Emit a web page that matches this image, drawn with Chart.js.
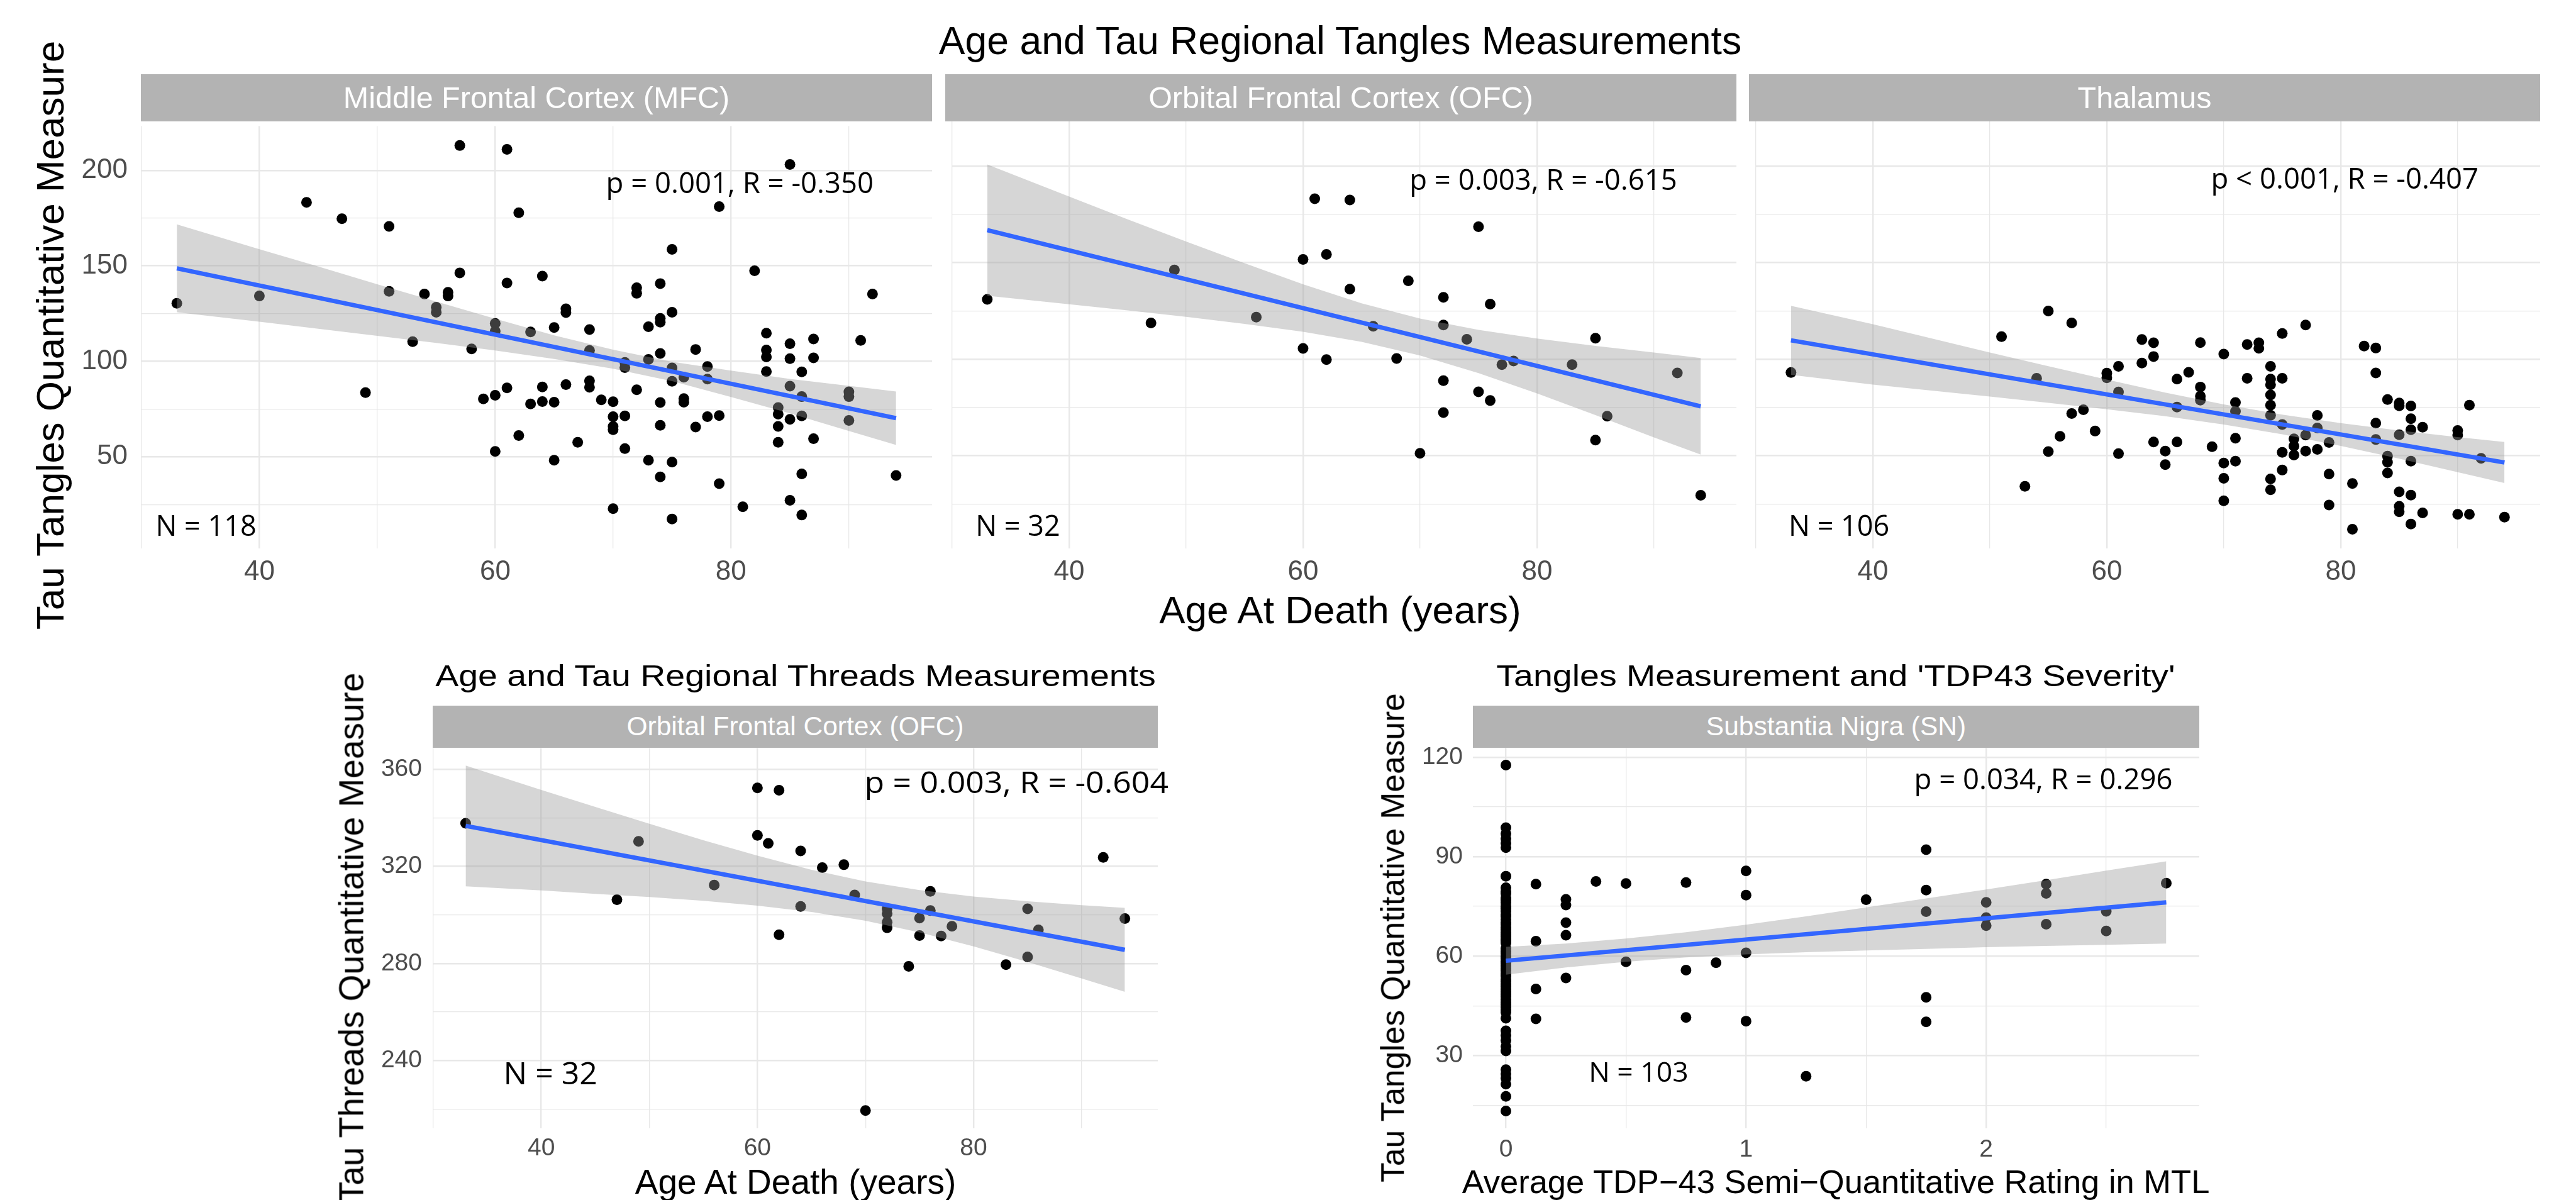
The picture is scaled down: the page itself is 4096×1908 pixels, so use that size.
<!DOCTYPE html>
<html>
<head>
<meta charset="utf-8">
<script src="https://cdn.jsdelivr.net/npm/chart.js@4.4.1/dist/chart.umd.min.js"></script>
<style>
  html, body { margin: 0; padding: 0; background: #fff; }
  #page { position: relative; width: 4096px; height: 1908px; overflow: hidden;
          font-family: 'Liberation Sans', Arial, sans-serif; }
  canvas { position: absolute; }
  .txt { position: absolute; white-space: nowrap; line-height: 1; color: #000; }
  .strip { position: absolute; background: #b3b3b3; color: #fff; display: flex;
           align-items: center; justify-content: center; line-height: 1; white-space: nowrap; }
</style>
</head>
<body>
<div id="page"></div>
<script>
// ---- data ----
const mfcAge = [33,40,44,47,49,51,51,53,54,55,55,56,56,57,57,58,59,60,60,60,60,61,61,61,62,62,63,63,
  64,64,64,65,65,65,66,66,66,67,68,68,68,68,69,70,70,70,70,70,71,71,71,71,72,72,72,73,73,73,
  74,74,74,74,74,74,74,75,75,75,75,75,75,76,76,76,77,77,78,78,78,79,79,79,81,82,83,83,83,83,
  84,84,84,84,85,85,85,85,85,85,86,86,86,86,86,87,87,87,90,90,90,91,92,94];
const mfcTangles = [130.4,134.2,183.2,174.7,83.6,170.6,136.6,110.3,135.2,128.3,125.7,136.1,134.2,213.0,146.3,
  106.5,80.3,119.8,115.8,82.2,52.8,211.0,141.0,86.1,177.8,61.1,115.4,77.7,
  144.6,86.6,78.9,117.7,78.6,48.2,127.5,125.5,87.8,57.6,116.6,105.7,89.8,86.4,79.8,78.8,71.0,65.9,64.2,22.8,
  99.4,96.7,71.4,54.3,138.5,135.6,85.1,118.1,101.0,48.2,
  140.7,122.5,120.5,104.1,78.4,66.5,39.5,158.6,125.7,96.5,89.5,47.2,17.4,91.7,80.5,78.6,106.2,65.6,
  97.3,90.7,71.0,181.0,71.6,35.9,23.8,147.4,114.7,105.9,102.3,94.6,
  75.8,72.3,65.9,57.6,203.1,109.2,101.4,87.0,69.6,27.2,94.5,81.5,71.4,41.0,19.5,111.7,101.8,59.5,
  84.0,81.5,69.0,110.9,135.2,40.2];

const ofcAge = [33,47,49,56,60,60,61,62,62,64,64,66,68,69,70,72,72,72,72,74,75,75,76,76,77,78,83,85,85,86,92,94];
const ofcTangles = [131.0,118.8,146.2,121.8,151.7,105.6,183.1,154.3,99.8,182.5,136.3,117.1,100.4,140.6,51.3,
  132.1,117.7,88.9,72.4,110.3,168.6,83.1,128.6,78.6,97.2,99.1,97.2,110.9,58.1,70.5,92.9,29.5];

const thalAge = [33,51,53,54,55,55,56,57,57,58,59,60,60,61,61,61,63,63,
  64,64,64,65,65,66,66,66,67,68,68,68,68,69,70,70,70,70,71,71,71,71,72,72,73,73,
  74,74,74,74,74,74,74,74,75,75,75,75,75,76,76,76,77,77,77,78,78,78,79,79,79,81,81,82,
  83,83,83,83,84,84,84,84,85,85,85,85,85,85,86,86,86,86,86,86,87,87,90,90,90,91,91,92,94];
const thalTangles = [93.1,111.7,34.2,90.1,125.0,52.2,60.1,118.8,71.9,73.8,62.8,92.8,90.4,96.3,83.0,51.1,110.2,98.0,
  108.5,101.4,57.1,52.4,45.4,89.7,75.2,57.1,93.2,108.6,85.6,80.9,78.8,54.7,102.7,46.2,38.3,26.7,
  77.6,73.0,59.1,47.2,107.6,90.1,108.5,105.7,
  96.3,89.7,86.8,81.5,76.2,71.0,38.0,32.4,113.3,90.1,66.2,51.8,42.6,58.8,55.0,50.4,117.7,60.7,52.4,
  70.9,64.4,53.3,56.9,40.5,24.5,35.6,11.9,106.8,
  105.8,92.9,66.9,58.4,79.1,49.8,46.6,41.1,77.3,75.9,60.9,31.3,23.8,21.0,75.8,69.2,63.5,47.2,29.6,14.6,
  64.8,20.4,63.1,60.7,19.7,76.2,19.7,48.7,18.2];

const thrAge = [33,47,49,56,60,60,61,62,62,64,64,66,68,69,70,72,72,72,72,74,75,75,76,76,77,78,83,85,85,86,92,94];
const thrThreads = [337.8,306.3,330.3,312.3,352.4,332.8,329.5,351.4,291.8,326.4,303.5,319.5,320.7,308.2,219.3,
  302.5,300.5,297.0,294.7,278.8,298.7,291.5,309.7,301.8,291.3,295.3,279.5,302.5,282.7,293.8,323.7,298.5];

const tdpRating = [
  0,0,0,0,0,0,0,
  0,0,0,0,0,0,0,0,0,0,0,0,0,0,0,0,0,0,0,0,0,0,
  0,0,0,0,0,0,0,0,0,0,0,0,0,0,0,0,0,0,0,0,0,0,0,0,0,0,
  0,0,0,0,0,0,0,0,0,0,0,0,
  0.125,0.125,0.125,0.125,0.25,0.25,0.25,0.25,0.25,0.375,0.5,0.5,0.75,0.75,0.75,0.875,
  1,1,1,1,1.25,1.5,1.75,1.75,1.75,1.75,1.75,2,2,2,2.25,2.25,2.25,2.5,2.5,2.75];
const tdpTangles = [
  117.6,98.7,96.9,95.4,94.0,92.7,84.1,
  80.6,79.4,78.8,77.6,76.9,76.1,75.0,74.4,73.5,72.6,72.0,71.1,70.2,69.6,68.7,68.0,67.2,66.5,65.9,65.1,64.6,64.0,
  62.3,61.5,60.9,60.0,59.4,58.5,57.9,57.0,56.2,55.6,54.7,54.0,53.1,52.4,51.6,50.9,50.0,49.3,48.5,47.8,46.9,46.1,45.4,44.6,43.8,43.1,
  41.3,37.5,36.1,34.6,32.8,31.4,25.8,24.5,23.2,21.4,17.7,13.3,
  81.7,64.5,50.1,41.1,77.1,75.4,70.1,66.3,53.4,82.5,81.9,58.3,82.2,55.8,41.5,58.0,
  85.7,78.4,61.0,40.4,23.8,77.0,92.1,79.9,73.4,47.6,40.2,76.2,71.6,69.2,81.7,78.9,69.6,73.5,67.6,82.0];

// fitted lines and confidence bands, read at a few ages
const mfcFitX = [33, 94], mfcFitY = [148.7, 70.2];
const mfcBandX  = [33, 40, 45, 50, 55, 60, 65, 70, 75, 80, 85, 90, 94];
const mfcBandLo = [125.7, 120.7, 117.0, 113.3, 109.6, 105.7, 101.2, 96.1, 89.6, 81.3, 72.7, 63.5, 56.2];
const mfcBandHi = [171.7, 158.7, 149.6, 140.3, 131.3, 122.3, 113.6, 106.1, 99.7, 95.1, 90.8, 87.1, 84.2];

const ofcFitX = [33, 94], ofcFitY = [166.9, 75.6];
const ofcBandX  = [33, 40, 45, 50, 55, 60, 65, 70, 75, 80, 85, 90, 94];
const ofcBandLo = [132.9, 128.5, 125.3, 122.0, 118.3, 114.2, 109.0, 101.9, 92.8, 82.3, 71.1, 59.5, 50.6];
const ofcBandHi = [200.9, 184.3, 172.5, 161.0, 149.7, 138.8, 129.0, 121.1, 115.2, 110.7, 106.9, 103.5, 100.6];

const thalFitX = [33, 94], thalFitY = [109.8, 46.5];
const thalBandX  = [33, 40, 45, 50, 55, 60, 65, 70, 75, 80, 85, 90, 94];
const thalBandLo = [91.9, 86.9, 83.8, 80.7, 77.4, 74.1, 70.5, 66.2, 61.1, 55.1, 48.5, 41.5, 35.9];
const thalBandHi = [127.7, 118.1, 110.8, 103.5, 96.4, 89.5, 82.7, 76.6, 71.3, 66.9, 63.1, 59.7, 57.1];

const thrFitX = [33, 94], thrFitY = [336.7, 285.6];
const thrBandX  = [33, 40, 45, 50, 55, 60, 65, 70, 75, 80, 85, 90, 94];
const thrBandLo = [311.8, 310.1, 308.7, 307.4, 305.8, 303.8, 301.2, 297.6, 292.8, 287.0, 280.6, 273.8, 268.3];
const thrBandHi = [361.6, 351.5, 344.5, 337.6, 330.8, 324.4, 318.6, 313.8, 310.2, 307.6, 305.6, 304.0, 302.9];

const tdpFitX = [0, 2.75], tdpFitY = [58.6, 76.2];
const tdpBandX  = [0, 0.25, 0.5, 0.75, 1, 1.25, 1.5, 1.75, 2, 2.25, 2.5, 2.75];
const tdpBandLo = [54.4, 56.6, 58.3, 59.6, 60.5, 61.2, 61.7, 62.2, 62.7, 63.1, 63.4, 63.8];
const tdpBandHi = [62.8, 63.8, 65.3, 67.2, 69.5, 72.0, 74.7, 77.4, 80.1, 82.9, 85.8, 88.6];

// labelled ticks
const ageTicks = [40, 60, 80];
const tangleTicks = [50, 100, 150, 200];
const threadTicks = [240, 280, 320, 360];
const ratingTicks = [0, 1, 2];
const snTicks = [30, 60, 90, 120];

// ---- drawing ----
const page = document.getElementById('page');
const PAD = 40;
Chart.defaults.font.family = "'Liberation Sans', Arial, sans-serif";

function zip(xs, ys) {
  return xs.map((x, i) => ({ x: x, y: ys[i] }));
}

function addText(text, cx, cy, size, extra) {
  const d = document.createElement('div');
  d.className = 'txt';
  d.textContent = text;
  d.style.fontSize = size + 'px';
  d.style.left = cx + 'px';
  d.style.top = cy + 'px';
  d.style.transform = 'translate(-50%, -50%) ' + (extra || '');
  page.appendChild(d);
}

function addStrip(text, left, top, width, height, size) {
  const d = document.createElement('div');
  d.className = 'strip';
  d.textContent = text;
  d.style.left = left + 'px';
  d.style.top = top + 'px';
  d.style.width = width + 'px';
  d.style.height = height + 'px';
  d.style.fontSize = size + 'px';
  page.appendChild(d);
}

function drawNotes(chart, notes) {
  const ctx = chart.ctx;
  notes.forEach(n => {
    const px = chart.scales.x.getPixelForValue(n.x);
    const py = chart.scales.y.getPixelForValue(n.y) + 0.357 * n.size;
    ctx.save();
    ctx.font = n.size + "px 'Open Sans'";
    ctx.fillStyle = '#000';
    ctx.textAlign = 'left';
    ctx.textBaseline = 'alphabetic';
    ctx.translate(px, py);
    ctx.scale(n.sx || 1, 1);
    ctx.fillText(n.text, 0, 0);
    ctx.restore();
  });
}

function addPanel(p) {
  const canvas = document.createElement('canvas');
  const cw = p.yAxisW + p.width + PAD;
  const ch = PAD + p.height + p.xAxisH;
  canvas.width = cw;
  canvas.height = ch;
  canvas.style.left = (p.left - p.yAxisW) + 'px';
  canvas.style.top = (p.top - PAD) + 'px';
  canvas.style.width = cw + 'px';
  canvas.style.height = ch + 'px';
  page.appendChild(canvas);

  const tickFont = { size: p.tickSize };
  new Chart(canvas, {
    type: 'scatter',
    data: {
      datasets: [
        { type: 'line', data: zip(p.fitX, p.fitY), borderColor: '#3366ff', borderWidth: 7,
          pointRadius: 0, fill: false, order: 0 },
        { type: 'line', data: zip(p.bandX, p.bandLo), borderColor: 'rgba(0,0,0,0)', borderWidth: 0,
          pointRadius: 0, fill: false, order: 1 },
        { type: 'line', data: zip(p.bandX, p.bandHi), borderColor: 'rgba(0,0,0,0)', borderWidth: 0,
          pointRadius: 0, fill: '-1', backgroundColor: 'rgba(153,153,153,0.4)', order: 1 },
        { data: zip(p.xs, p.ys), pointRadius: 8.5, backgroundColor: '#000', borderWidth: 0, order: 2 }
      ]
    },
    options: {
      responsive: false,
      animation: false,
      events: [],
      devicePixelRatio: 1,
      layout: { padding: { top: PAD, right: PAD, left: 0, bottom: 0 }, autoPadding: false },
      plugins: { legend: { display: false }, tooltip: { enabled: false } },
      scales: {
        x: {
          type: 'linear', position: 'bottom', min: p.xMin, max: p.xMax,
          afterFit: s => { s.height = p.xAxisH; },
          border: { display: false },
          grid: { color: '#e8e8e8', drawTicks: false,
                  lineWidth: c => (c.tick && p.xMajor.includes(c.tick.value)) ? 2.4 : 1.3 },
          ticks: { stepSize: p.xStep, includeBounds: false, autoSkip: false, maxRotation: 0,
                   padding: p.xPad, color: '#4d4d4d', font: tickFont,
                   callback: v => p.xMajor.includes(v) ? String(v) : '' }
        },
        y: {
          type: 'linear', position: 'left', min: p.yMin, max: p.yMax,
          afterFit: s => { s.width = p.yAxisW; },
          border: { display: false },
          grid: { color: '#e8e8e8', drawTicks: false,
                  lineWidth: c => (c.tick && p.yMajor.includes(c.tick.value)) ? 2.4 : 1.3 },
          ticks: { display: p.showY, stepSize: p.yStep, includeBounds: false, autoSkip: false,
                   padding: p.yPad, color: '#4d4d4d', font: tickFont,
                   callback: v => p.yMajor.includes(v) ? String(v) : '' }
        }
      }
    },
    plugins: [{ id: 'notes', afterDraw: chart => drawNotes(chart, p.notes) }]
  });
}

// top row: regional tangles
const topRow = { top: 193, height: 679, width: 1258, xAxisH: 70, tickSize: 44, xPad: 11, yPad: 21,
  xMin: 29.95, xMax: 97.05, xStep: 10, xMajor: ageTicks,
  yMin: 2.0, yMax: 223.2, yStep: 25, yMajor: tangleTicks };

addPanel(Object.assign({}, topRow, { left: 224, yAxisW: 110, showY: true,
  xs: mfcAge, ys: mfcTangles, fitX: mfcFitX, fitY: mfcFitY,
  bandX: mfcBandX, bandLo: mfcBandLo, bandHi: mfcBandHi,
  notes: [{ text: 'p = 0.001, R = -0.350', x: 69.4, y: 193.5, size: 45.5 },
          { text: 'N = 118', x: 31.2, y: 13.8, size: 45 }] }));

addPanel(Object.assign({}, topRow, { left: 1503, yAxisW: 0, showY: false,
  xs: ofcAge, ys: ofcTangles, fitX: ofcFitX, fitY: ofcFitY,
  bandX: ofcBandX, bandLo: ofcBandLo, bandHi: ofcBandHi,
  notes: [{ text: 'p = 0.003, R = -0.615', x: 69.1, y: 193.0, size: 45.5 },
          { text: 'N = 32', x: 32.0, y: 13.6, size: 45 }] }));

addPanel(Object.assign({}, topRow, { left: 2781, yAxisW: 0, showY: false,
  xs: thalAge, ys: thalTangles, fitX: thalFitX, fitY: thalFitY,
  bandX: thalBandX, bandLo: thalBandLo, bandHi: thalBandHi,
  notes: [{ text: 'p < 0.001, R = -0.407', x: 68.9, y: 193.5, size: 45.5 },
          { text: 'N = 106', x: 32.8, y: 13.8, size: 45 }] }));

addStrip('Middle Frontal Cortex (MFC)', 224, 118, 1258, 75, 48.5);
addStrip('Orbital Frontal Cortex (OFC)', 1503, 118, 1258, 75, 48.5);
addStrip('Thalamus', 2781, 118, 1258, 75, 48.5);

addText('Age and Tau Regional Tangles Measurements', 2131, 64, 62.5);
addText('Age At Death (years)', 2131, 970, 62);
addText('Tau Tangles Quantitative Measure', 80, 533, 62, 'rotate(-90deg)');

// bottom left: threads
addPanel({ left: 688, top: 1189, width: 1153, height: 605, yAxisW: 100, xAxisH: 60, showY: true,
  tickSize: 39, xPad: 9, yPad: 17,
  xMin: 29.95, xMax: 97.05, xStep: 10, xMajor: ageTicks,
  yMin: 212.0, yMax: 368.8, yStep: 20, yMajor: threadTicks,
  xs: thrAge, ys: thrThreads, fitX: thrFitX, fitY: thrFitY,
  bandX: thrBandX, bandLo: thrBandLo, bandHi: thrBandHi,
  notes: [{ text: 'p = 0.003, R = -0.604', x: 69.9, y: 354.5, size: 47, sx: 1.1 },
          { text: 'N = 32', x: 36.5, y: 234.7, size: 50 }] });

addStrip('Orbital Frontal Cortex (OFC)', 688, 1122, 1153, 67, 42.5);
addText('Age and Tau Regional Threads Measurements', 1265, 1075, 55.5, 'scaleY(0.88)');
addText('Age At Death (years)', 1265, 1879, 55);
addText('Tau Threads Quantitative Measure', 559, 1491, 55, 'rotate(-90deg)');

// bottom right: TDP-43
addPanel({ left: 2342, top: 1189, width: 1155, height: 605, yAxisW: 100, xAxisH: 60, showY: true,
  tickSize: 39, xPad: 11, yPad: 16,
  xMin: -0.1375, xMax: 2.8875, xStep: 0.5, xMajor: ratingTicks,
  yMin: 8.1, yMax: 122.8, yStep: 15, yMajor: snTicks,
  xs: tdpRating, ys: tdpTangles, fitX: tdpFitX, fitY: tdpFitY,
  bandX: tdpBandX, bandLo: tdpBandLo, bandHi: tdpBandHi,
  notes: [{ text: 'p = 0.034, R = 0.296', x: 1.70, y: 113.3, size: 45.5 },
          { text: 'N = 103', x: 0.345, y: 25.2, size: 44.5 }] });

addStrip('Substantia Nigra (SN)', 2342, 1122, 1155, 67, 42.5);
addText("Tangles Measurement and 'TDP43 Severity'", 2919, 1075, 55.5, 'scaleY(0.88)');
addText('Average TDP\u221243 Semi\u2212Quantitative Rating in MTL', 2919, 1879, 52.5);
addText('Tau Tangles Quantitative Measure', 2215, 1491, 51.5, 'rotate(-90deg)');
</script>
</body>
</html>
